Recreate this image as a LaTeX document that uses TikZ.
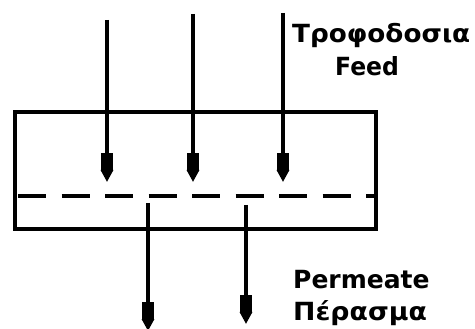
\documentclass[tikz,border=0pt]{standalone}
\usepackage{fontspec}
\setmainfont{DejaVu Sans}
\usetikzlibrary{arrows.meta}
\begin{document}
\begin{tikzpicture}[x=1pt,y=-1pt,
  wall/.style={line width=4.5pt,line join=miter},
  membrane/.style={line width=4.5pt,dash pattern=on 28pt off 15.5pt},
  flow/.style={line width=3.5pt,-{Rectangle[length=17pt,width=12pt,sep=0pt]Triangle[length=12pt,width=12pt,sep=0pt]}},
  lbl/.style={inner sep=0pt,anchor=base west,font=\bfseries\fontsize{25}{25}\selectfont}]
\useasboundingbox (0,0) rectangle (475,329);
% module housing
\draw[wall] (15,112) rectangle (376,229);
% membrane
\draw[membrane] (18,196) -- (374,196);
% feed inlets
\coordinate (f1) at (107,20);
\coordinate (f2) at (193,14);
\coordinate (f3) at (283,13);
\coordinate (g1) at (107,182);
\coordinate (g2) at (193,182);
\coordinate (g3) at (283,182);
\draw[flow] (f1) -- (g1);
\draw[flow] (f2) -- (g2);
\draw[flow] (f3) -- (g3);
% permeate outlets
\coordinate (p1) at (148,203);
\coordinate (p2) at (246,205);
\coordinate (q1) at (148,331);
\coordinate (q2) at (246,324);
\draw[flow] (p1) -- (q1);
\draw[flow] (p2) -- (q2);
% labels
\node[lbl] (feedgr) at (292,43) {\scalebox{1.05}[1]{Τροφοδοσια}};
\node[lbl] (feeden) at (335,76) {\scalebox{0.94}[1]{Feed}};
\node[lbl] (permen) at (293,288) {\scalebox{1.0}[1]{Permeate}};
\node[lbl] (permgr) at (293,320) {\scalebox{1.07}[1]{Πέρασμα}};
\end{tikzpicture}
\end{document}
